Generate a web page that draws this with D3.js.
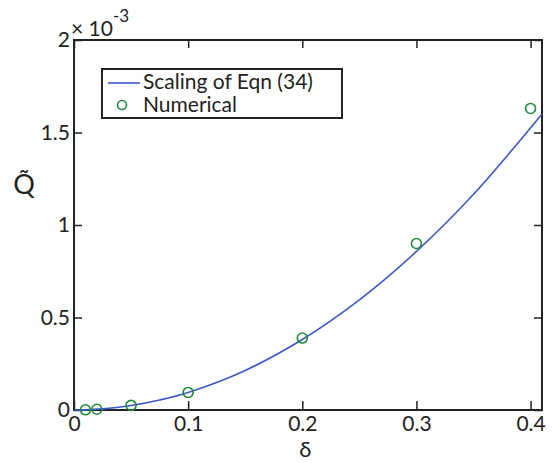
<!DOCTYPE html>
<html><head><meta charset="utf-8">
<script src="https://cdn.jsdelivr.net/npm/d3@7"></script>
<style>
body{margin:0;background:#fff;}
text{font-family:Lato,"Open Sans",sans-serif;fill:#222;}
</style></head>
<body><svg id="c" width="552" height="463"></svg>
<script>
// Data (Q in units of 1e-3)
const curveDelta = [0, 0.025, 0.05, 0.075, 0.1, 0.15, 0.2, 0.25, 0.3, 0.35, 0.41];
const curveQ     = [0, 0.006, 0.024, 0.054, 0.095, 0.214, 0.381, 0.595, 0.857, 1.166, 1.600];
const numDelta   = [0.01, 0.02, 0.05, 0.1, 0.2, 0.3, 0.4];
const numQ       = [0.001, 0.004, 0.025, 0.095, 0.389, 0.90, 1.63];
const xTicks = [0, 0.1, 0.2, 0.3, 0.4];
const yTicks = [0, 0.5, 1, 1.5, 2];
const xTickLabels = ["0", "0.1", "0.2", "0.3", "0.4"];
const yTickLabels = ["0", "0.5", "1", "1.5", "2"];
const legendLabels = ["Scaling of Eqn (34)", "Numerical"];

const L = 74, R = 542, T = 40, B = 410;
const svg = d3.select("#c");
const x = d3.scaleLinear().domain([0, 0.41]).range([L, R]);
const y = d3.scaleLinear().domain([0, 2]).range([B, T]);

const fs = 21;
// axes
const gx = svg.append("g").attr("transform", `translate(0,${B})`)
  .call(d3.axisBottom(x).tickValues(xTicks).tickFormat((d,i)=>xTickLabels[i]).tickSizeInner(-9).tickSizeOuter(0).tickPadding(6));
const gy = svg.append("g").attr("transform", `translate(${L},0)`)
  .call(d3.axisLeft(y).tickValues(yTicks).tickFormat((d,i)=>yTickLabels[i]).tickSizeInner(-8).tickSizeOuter(0).tickPadding(4));
const gt = svg.append("g").attr("transform", `translate(0,${T})`)
  .call(d3.axisTop(x).tickValues(xTicks).tickFormat("").tickSizeInner(-8).tickSizeOuter(0));
const gr = svg.append("g").attr("transform", `translate(${R},0)`)
  .call(d3.axisRight(y).tickValues(yTicks).tickFormat("").tickSizeInner(-8).tickSizeOuter(0));
[gx,gy,gt,gr].forEach(g=>{
  g.select(".domain").remove();
  g.selectAll("line").attr("stroke","#222").attr("stroke-width",1.5);
  g.selectAll("text").attr("font-size",fs).attr("font-family","Lato,'Open Sans',sans-serif").attr("fill","#222");
});
svg.append("rect").attr("x",L).attr("y",T).attr("width",R-L).attr("height",B-T)
  .attr("fill","none").attr("stroke","#222").attr("stroke-width",2);

// curve
const lineGen = d3.line().x((d,i)=>x(curveDelta[i])).y(d=>y(d)).curve(d3.curveCatmullRom);
svg.append("path").datum(curveQ).attr("d", lineGen)
  .attr("fill","none").attr("stroke","#3a5acb").attr("stroke-width",1.6);

// points
svg.append("g").selectAll("circle").data(numQ).join("circle")
  .attr("cx",(d,i)=>x(numDelta[i])).attr("cy",d=>y(d)).attr("r",5)
  .attr("fill","none").attr("stroke","#1f8a3c").attr("stroke-width",1.6);

// exponent label
const ex = svg.append("text").attr("x",71).attr("y",36).attr("font-size",21);
ex.append("tspan").text("× 10");
ex.append("tspan").attr("dy",-14).attr("font-size",17).text("-3");

// axis titles
svg.append("text").attr("x",x(0.2)+3).attr("y",457).attr("text-anchor","middle")
  .attr("font-size",22).text("δ");
svg.append("text").attr("x",24).attr("y",194).attr("text-anchor","middle")
  .attr("font-size",27).text("Q\u0303");

// legend
const lg = svg.append("g");
lg.append("rect").attr("x",102).attr("y",69).attr("width",240).attr("height",49)
  .attr("fill","#fff").attr("stroke","#222").attr("stroke-width",2);
lg.append("line").attr("x1",108).attr("x2",140).attr("y1",83).attr("y2",83)
  .attr("stroke","#3a5acb").attr("stroke-width",1.6);
lg.append("circle").attr("cx",122).attr("cy",105).attr("r",4.5)
  .attr("fill","none").attr("stroke","#1f8a3c").attr("stroke-width",1.6);
lg.append("text").attr("x",143).attr("y",89).attr("font-size",21).text(legendLabels[0]);
lg.append("text").attr("x",143).attr("y",112).attr("font-size",21).text(legendLabels[1]);
</script></body></html>
